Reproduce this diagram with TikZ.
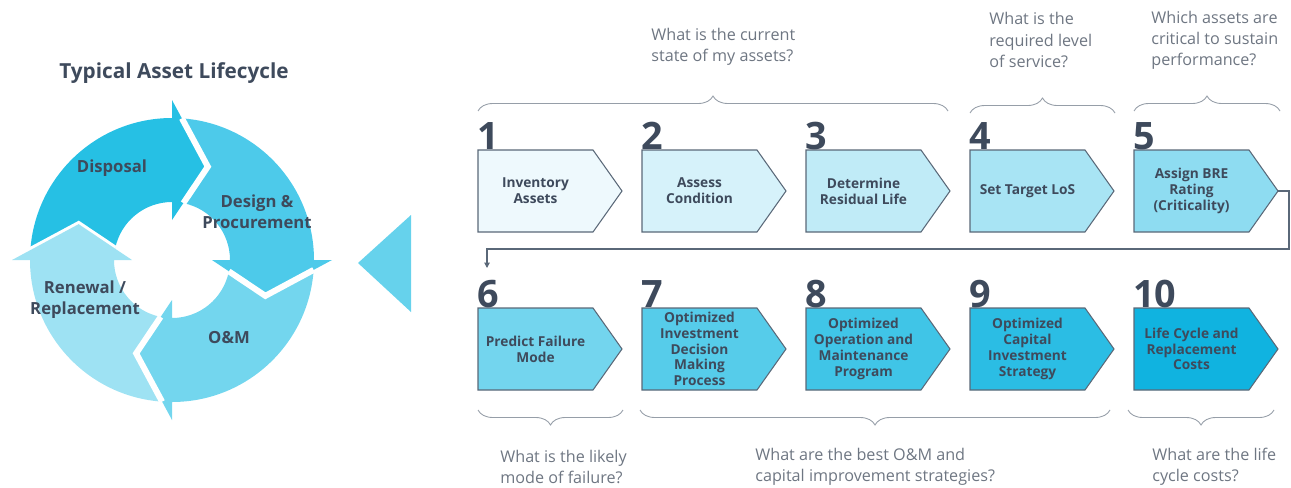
\documentclass[tikz,border=0pt]{standalone}
\usepackage{fontspec}
\setmainfont{Open Sans}
\usetikzlibrary{arrows.meta,decorations.pathreplacing}
\definecolor{slate}{RGB}{62,74,92}
\definecolor{askgray}{RGB}{110,118,130}
\definecolor{bracegray}{RGB}{150,158,168}
\definecolor{edgegray}{RGB}{90,104,120}
\definecolor{cycA}{RGB}{38,192,228}
\definecolor{cycB}{RGB}{77,202,234}
\definecolor{cycC}{RGB}{115,214,238}
\definecolor{cycD}{RGB}{158,226,243}
\definecolor{pointer}{RGB}{102,210,236}
\definecolor{step1}{RGB}{238,249,253}
\definecolor{step2}{RGB}{214,242,250}
\definecolor{step3}{RGB}{192,235,247}
\definecolor{step4}{RGB}{168,228,244}
\definecolor{step5}{RGB}{142,220,241}
\definecolor{step6}{RGB}{115,213,238}
\definecolor{step7}{RGB}{86,204,234}
\definecolor{step8}{RGB}{64,197,231}
\definecolor{step9}{RGB}{43,189,228}
\definecolor{step10}{RGB}{16,179,224}
\tikzset{stepbox/.style={draw=edgegray,line width=0.6pt}}
\tikzset{steptext/.style={font=\bfseries\fontsize{7.8}{9}\selectfont,text=slate,align=center,inner sep=0}}
\tikzset{stepnum/.style={font=\bfseries\fontsize{21.5}{22}\selectfont,text=slate,inner sep=0,anchor=base west}}
\tikzset{question/.style={font=\fontsize{9.2}{12}\selectfont,text=askgray,align=left,anchor=west,inner sep=0}}
\tikzset{qbrace/.style={decorate,decoration={brace,amplitude=0.3cm},draw=bracegray,line width=0.5pt}}
\tikzset{cyclelabel/.style={font=\bfseries\fontsize{9.5}{12}\selectfont,text=slate,align=center}}
\tikzset{flowline/.style={draw=edgegray,line width=0.6pt,-{Triangle[length=3pt,width=3pt]}}}

\begin{document}
\begin{tikzpicture}[x=0.02cm,y=-0.02cm]
	\useasboundingbox (0,0) rectangle (1291,487);
	% lifecycle wheel
	\node[font=\bfseries\fontsize{11.8}{13}\selectfont,text=slate] (title) at (174,73) {Typical Asset Lifecycle};
	\begin{scope}[shift={(172,260)},yscale=-1]
		\foreach \b/\c in {90/cycA,0/cycB,-90/cycC,180/cycD}{
			\fill[\c] ({\b+86}:142) arc[start angle=\b+86,end angle=\b,radius=142]
				-- (\b:160) -- ({\b-21}:100) -- (\b:40) -- (\b:58)
				arc[start angle=\b,end angle=\b+78.7,radius=58]
				-- ({\b+69}:100) -- cycle;
			\draw[white,line width=0.12cm] ({\b+86}:142) -- ({\b+69}:100) -- ({\b+78.7}:58);
		}
	\end{scope}
	\node[cyclelabel] (disposal) at (112,168) {Disposal};
	\node[cyclelabel] (design) at (257,212) {Design \&\\Procurement};
	\node[cyclelabel] (om) at (229,338) {O\&M};
	\node[cyclelabel] (renewal) at (85,300) {Renewal /\\Replacement};
	\fill[pointer] (358,263) -- (411,215) -- (411,312) -- cycle;
	% steps
	\foreach \i/\x/\y/\t in {1/478/150/{Inventory\\Assets},2/642/150/{Assess\\Condition},
		3/806/150/{Determine\\Residual Life},4/970/150/{Set Target LoS},
		5/1134/150/{Assign BRE\\Rating\\(Criticality)},6/478/308/{Predict Failure\\Mode},
		7/642/308/{Optimized\\Investment\\Decision\\Making\\Process},
		8/806/308/{Optimized\\Operation and\\Maintenance\\Program},
		9/970/308/{Optimized\\Capital\\Investment\\Strategy},
		10/1134/308/{Life Cycle and\\Replacement\\Costs}}{
		\filldraw[stepbox,fill=step\i] (\x,\y) -- ++(115,0) -- ++(29,41) -- ++(-29,41) -- ++(-115,0) -- cycle;
		\node[steptext] (b\i) at (\x+57.5,\y+41) {\t};
		\node[stepnum] (n\i) at (\x-1,\y-1) {\i};
		\coordinate (tip\i) at (\x+144,\y+41);
	}
	\coordinate (turn) at (1289,249);
	\coordinate (drop) at (487,268);
	\draw[flowline] (tip5) -| (turn) -| (drop);
	% questions
	\node[question] (q1) at (651,47) {What is the current\\state of my assets?};
	\node[question] (q4) at (989,40) {What is the\\required level\\of service?};
	\node[question] (q5) at (1151,40) {Which assets are\\critical to sustain\\performance?};
	\node[question] (q6) at (500,467) {What is the likely\\mode of failure?};
	\node[question] (q7) at (755,467) {What are the best O\&M and\\capital improvement strategies?};
	\node[question] (q10) at (1152,467) {What are the life\\cycle costs?};
	\draw[qbrace] (478,111) -- (948,111);
	\draw[qbrace] (970,113) -- (1115,113);
	\draw[qbrace] (1134,111) -- (1280,111);
	\draw[qbrace] (623,410) -- (478,410);
	\draw[qbrace] (1110,410) -- (640,410);
	\draw[qbrace] (1274,410) -- (1128,410);
\end{tikzpicture}
\end{document}
